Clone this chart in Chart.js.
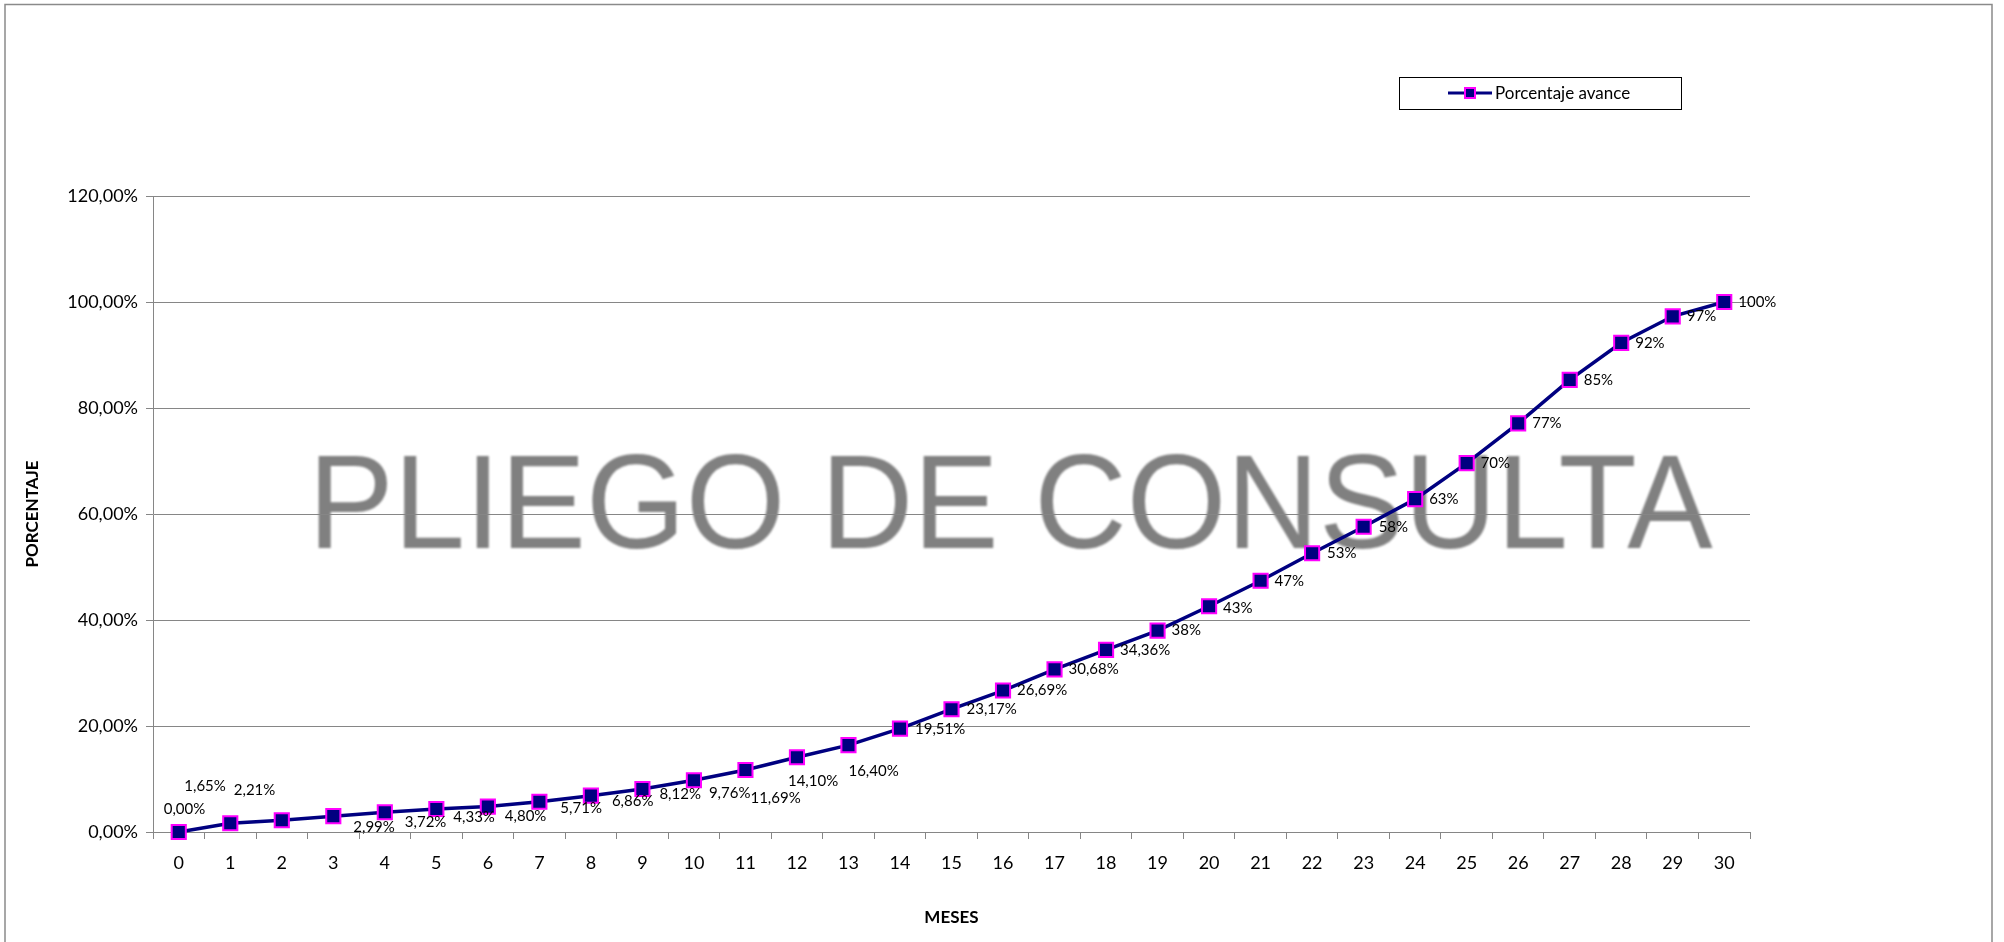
<!DOCTYPE html>
<html>
<head>
<meta charset="utf-8">
<script src="https://cdn.jsdelivr.net/npm/chart.js@4.4.1/dist/chart.umd.min.js"></script>
<style>
  html, body { margin: 0; padding: 0; background: #fff; }
  #wrap { width: 2004px; height: 942px; }
</style>
</head>
<body>
<div id="wrap"><canvas id="avance" width="2004" height="942"></canvas></div>
<script>
// Months on the x axis
const meses = ['0', '1', '2', '3', '4', '5', '6', '7', '8', '9', '10', '11', '12', '13', '14', '15',
               '16', '17', '18', '19', '20', '21', '22', '23', '24', '25', '26', '27', '28', '29', '30'];

// Cumulative progress in percent
const porcentaje = [0, 1.65, 2.21, 2.99, 3.72, 4.33, 4.80, 5.71, 6.86, 8.12, 9.76, 11.69, 14.10, 16.40,
                    19.51, 23.17, 26.69, 30.68, 34.36, 38.0, 42.6, 47.4, 52.6, 57.6, 62.8, 69.6, 77.1,
                    85.3, 92.3, 97.3, 100];

// From this month on the labels are shown without decimals
const sinDecimalesDesde = 19;

// Y axis range
const yMin = 0;
const yMax = 120;
const yPaso = 20;

// Manual label placement (px from the marker), like the hand-moved labels in the sheet
const desplX = [-15, -46, -48, 20, 20, 17, 17, 21, 21, 17, 15, 5, -9, 0, 15, 15,
                14, 14, 14, 14, 14, 14, 15, 15, 14, 14, 14, 14, 14, 14, 14];
const desplY = [-23, -37, -30, 11, 10, 8, 10, 6, 6, 5, 13, 28, 24, 26, 1, 0,
                0, 0, 0, 0, 2, 0, 0, 0, 0, 0, 0, 0, 0, 0, 0];

const AZUL = '#000080';
const MAGENTA = '#FF00FF';
const GRIS = '#868686';
const FUENTE = 'Lato, "Open Sans", sans-serif';

function formatoPct(v, decimales) {
    return v.toFixed(decimales).replace('.', ',') + '%';
}

// Grey frame and the "PLIEGO DE CONSULTA" watermark behind everything
const fondoPlugin = {
    id: 'fondo',
    beforeDraw(chart) {
        const ctx = chart.ctx;
        ctx.save();
        ctx.fillStyle = '#fff';
        ctx.fillRect(0, 0, chart.width, chart.height);
        ctx.strokeStyle = '#8a8a8a';
        ctx.lineWidth = 1.5;
        ctx.strokeRect(5, 4.5, 1987, 960);

        // watermark, stretched to the width it has in the sheet
        const texto = 'PLIEGO DE CONSULTA';
        ctx.font = '133px "Liberation Sans", Arial, sans-serif';
        const m = ctx.measureText(texto);
        const ancho = m.actualBoundingBoxLeft + m.actualBoundingBoxRight;
        const izq = 318, der = 1713, base = 548;
        const esc = (der - izq) / ancho;
        ctx.translate(izq, base);
        ctx.scale(esc, 1);
        ctx.filter = 'blur(0.8px)';
        ctx.fillStyle = '#808080';
        ctx.textBaseline = 'alphabetic';
        ctx.textAlign = 'left';
        ctx.fillText(texto, m.actualBoundingBoxLeft, 0);
        ctx.restore();
    }
};

// Value labels next to each marker
const etiquetasPlugin = {
    id: 'etiquetas',
    afterDatasetsDraw(chart) {
        const meta = chart.getDatasetMeta(0);
        const ctx = chart.ctx;
        ctx.save();
        ctx.font = '15px ' + FUENTE;
        ctx.fillStyle = '#000';
        ctx.textAlign = 'left';
        ctx.textBaseline = 'middle';
        meta.data.forEach((pt, i) => {
            const dec = i >= sinDecimalesDesde ? 0 : 2;
            ctx.fillText(formatoPct(porcentaje[i], dec), pt.x + desplX[i], pt.y + desplY[i]);
        });
        ctx.restore();
    }
};

// Boxed legend in the upper right, as in the sheet
const leyendaPlugin = {
    id: 'leyendaCaja',
    afterDraw(chart) {
        const ds = chart.data.datasets[0];
        const ctx = chart.ctx;
        ctx.save();
        ctx.strokeStyle = '#000';
        ctx.lineWidth = 1;
        ctx.strokeRect(1399.5, 77.5, 282, 32);

        const cy = 93;
        ctx.strokeStyle = ds.borderColor;
        ctx.lineWidth = 3;
        ctx.beginPath();
        ctx.moveTo(1448, cy);
        ctx.lineTo(1492, cy);
        ctx.stroke();

        ctx.fillStyle = ds.pointBackgroundColor;
        ctx.strokeStyle = ds.pointBorderColor;
        ctx.lineWidth = 2;
        ctx.fillRect(1465, cy - 5, 10, 10);
        ctx.strokeRect(1465, cy - 5, 10, 10);

        ctx.fillStyle = '#000';
        ctx.font = '17px ' + FUENTE;
        ctx.textAlign = 'left';
        ctx.textBaseline = 'middle';
        ctx.fillText(ds.label, 1495, cy + 1);
        ctx.restore();
    }
};

const ctx = document.getElementById('avance').getContext('2d');

new Chart(ctx, {
    type: 'line',
    data: {
        labels: meses,
        datasets: [{
            label: 'Porcentaje avance',
            data: porcentaje,
            borderColor: AZUL,
            borderWidth: 3.5,
            backgroundColor: AZUL,
            pointStyle: 'rect',
            pointRadius: 10,
            pointBackgroundColor: AZUL,
            pointBorderColor: MAGENTA,
            pointBorderWidth: 2,
            tension: 0,
            fill: false,
            clip: false
        }]
    },
    options: {
        responsive: false,
        animation: false,
        devicePixelRatio: 1,
        layout: {
            padding: { top: 196, right: 254, bottom: 0, left: 0 }
        },
        plugins: {
            legend: { display: false },
            tooltip: { enabled: false },
            title: { display: false }
        },
        scales: {
            x: {
                type: 'category',
                offset: true,
                afterFit: (s) => { s.height = 110; },
                grid: {
                    offset: true,
                    drawOnChartArea: false,
                    drawTicks: true,
                    tickLength: 7,
                    color: GRIS
                },
                border: { color: GRIS, width: 1 },
                ticks: {
                    color: '#000',
                    font: { family: FUENTE, size: 18 },
                    padding: 13,
                    maxRotation: 0,
                    autoSkip: false
                },
                title: {
                    display: true,
                    text: 'MESES',
                    color: '#000',
                    font: { family: FUENTE, size: 17, weight: 'bold' },
                    padding: { top: 0, bottom: 14 }
                }
            },
            y: {
                min: yMin,
                max: yMax,
                afterFit: (s) => { s.width = 153; },
                grid: {
                    color: GRIS,
                    lineWidth: 1,
                    drawTicks: true,
                    tickLength: 7
                },
                border: { color: GRIS, width: 1 },
                ticks: {
                    stepSize: yPaso,
                    color: '#000',
                    font: { family: FUENTE, size: 18 },
                    padding: 8,
                    callback: (v) => formatoPct(v, 2)
                },
                title: {
                    display: true,
                    text: 'PORCENTAJE',
                    color: '#000',
                    font: { family: FUENTE, size: 17, weight: 'bold' },
                    padding: { top: 22, bottom: 0 }
                }
            }
        }
    },
    plugins: [fondoPlugin, etiquetasPlugin, leyendaPlugin]
});
</script>
</body>
</html>
